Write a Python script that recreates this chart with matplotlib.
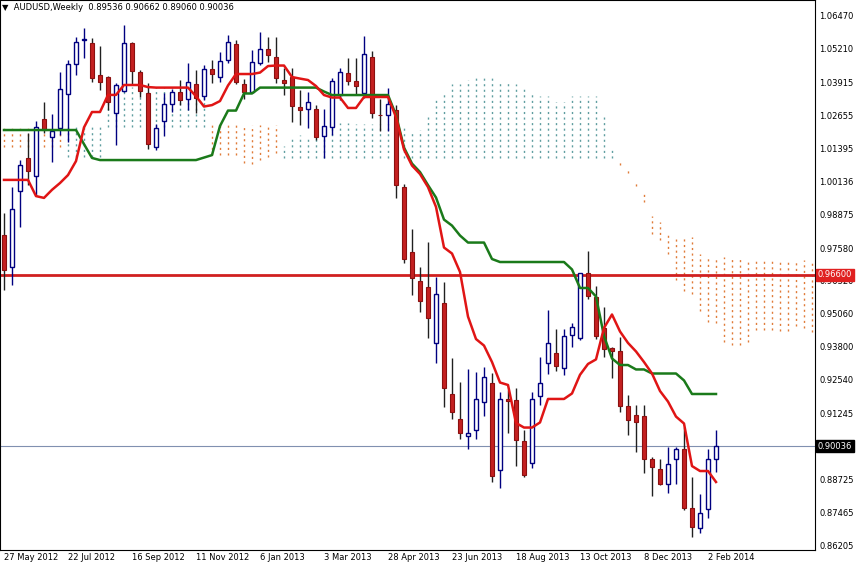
import numpy as np
import pandas as pd
import matplotlib
matplotlib.use("Agg")
import matplotlib.pyplot as plt

opens = [.9812,.9689,.9980,1.0107,1.0038,1.0256,1.0187,1.0222,1.0352,1.0467,
         1.0559,1.0547,1.0425,1.0417,1.0279,1.0363,1.0547,1.0436,1.0356,1.0149,
         1.0249,1.0314,1.0360,1.0333,1.0390,1.0344,1.0448,1.0417,1.0482,1.0543,
         1.0390,1.0360,1.0471,1.0524,1.0494,1.0406,1.0417,1.0302,1.0295,1.0295,
         1.0191,1.0226,1.0348,1.0432,1.0402,1.0356,1.0494,1.0272,1.0272,1.0291,
         .9996,.9747,.9636,.9613,.9398,.9552,.9203,.9107,.9042,.9065,
         .9172,.9245,.8912,.9184,.9180,.9023,.8939,.9195,.9322,.9360,
         .9303,.9429,.9417,.9666,.9574,.9456,.9379,.9368,.9157,.9123,
         .9119,.8954,.8916,.8858,.8954,.8992,.8766,.8690,.8763,.89536]
highs = [.9896,.9996,1.0099,1.0203,1.0249,1.0321,1.0275,1.0436,1.0482,1.0570,
         1.0605,1.0566,1.0536,1.0420,1.0394,1.0616,1.0550,1.0444,1.0394,1.0237,
         1.0356,1.0371,1.0406,1.0471,1.0444,1.0463,1.0482,1.0513,1.0578,1.0559,
         1.0409,1.0521,1.0589,1.0570,1.0570,1.0452,1.0452,1.0367,1.0360,1.0310,
         1.0295,1.0413,1.0452,1.0490,1.0490,1.0574,1.0517,1.0333,1.0375,1.0310,
         1.0007,.9835,.9689,.9785,.9651,.9632,.9341,.9249,.9299,.9287,
         .9306,.9283,.9211,.9218,.9226,.9065,.9211,.9345,.9525,.9452,
         .9452,.9475,.9668,.9751,.9617,.9536,.9383,.9421,.9199,.9161,
         .9161,.8962,.8954,.9000,.9000,.9077,.8885,.8820,.8992,.90662]
lows = [.9601,.9620,.9843,1.0003,.9961,1.0203,1.0092,1.0195,1.0168,1.0425,
        1.0490,1.0398,1.0367,1.0291,1.0157,1.0360,1.0386,1.0341,1.0141,1.0137,
        1.0191,1.0283,1.0310,1.0291,1.0279,1.0329,1.0394,1.0398,1.0471,1.0390,
        1.0333,1.0356,1.0463,1.0475,1.0394,1.0348,1.0245,1.0233,1.0222,1.0176,
        1.0107,1.0195,1.0329,1.0386,1.0348,1.0337,1.0260,1.0210,1.0210,.9954,
        .9705,.9582,.9517,.9417,.9322,.9153,.9107,.9031,.8992,.9031,
        .9119,.8866,.8843,.9054,.8927,.8885,.8920,.9161,.9280,.9291,
        .9276,.9383,.9410,.9567,.9414,.9345,.9264,.9134,.9046,.8981,
        .8900,.8812,.8854,.8824,.8858,.8759,.8655,.8671,.8728,.89060]
closes = [.9678,.9912,1.0080,1.0057,1.0226,1.0214,1.0210,1.0371,1.0467,1.0551,
          1.0563,1.0413,1.0398,1.0321,1.0386,1.0547,1.0440,1.0363,1.0160,1.0222,
          1.0314,1.0360,1.0329,1.0398,1.0337,1.0448,1.0429,1.0478,1.0551,1.0398,
          1.0360,1.0475,1.0524,1.0501,1.0413,1.0394,1.0306,1.0291,1.0321,1.0187,
          1.0229,1.0402,1.0436,1.0402,1.0383,1.0505,1.0279,1.0270,1.0314,1.0003,
          .9720,.9647,.9559,.9494,.9586,.9226,.9134,.9054,.9054,.9184,
          .9268,.8889,.9184,.9176,.9027,.8893,.9184,.9245,.9398,.9310,
          .9425,.9460,.9666,.9578,.9425,.9375,.9368,.9157,.9103,.9096,
          .8954,.8923,.8858,.8935,.8992,.8766,.8694,.8747,.8954,.90036]

# indicator values that depend on history before the data window
tenkan_early = [1.0023,1.0023,1.0023,1.0023,.9961,.9954,.9985,1.0011]
kijun_early = [1.0214]*10 + [1.0160,1.0107] + [1.0099]*13
spanA_early = [1.0149]*8 + [1.0226]*5 + [1.0379]*13
spanB_early = [1.0226]*8 + [1.0111]*5 + [1.0226]*13
spanB_shifted_early = [1.0233]*9 + [1.0107]*17

date_labels = ["27 May 2012","22 Jul 2012","16 Sep 2012","11 Nov 2012","6 Jan 2013",
               "3 Mar 2013","28 Apr 2013","23 Jun 2013","18 Aug 2013","13 Oct 2013",
               "8 Dec 2013","2 Feb 2014"]
price_ticks = [1.06470,1.05210,1.03915,1.02655,1.01395,1.00136,0.98875,0.97580,
               0.96320,0.95060,0.93800,0.92540,0.91245,0.88725,0.87465,0.86205]
hline_level = 0.96600
last_price = 0.90036

df = pd.DataFrame(dict(o=opens, h=highs, l=lows, c=closes))
n = len(df)
hh9 = df.h.rolling(9, min_periods=1).max(); ll9 = df.l.rolling(9, min_periods=1).min()
tenkan = ((hh9 + ll9) / 2).values
tenkan[:len(tenkan_early)] = tenkan_early
hh26 = df.h.rolling(26, min_periods=1).max(); ll26 = df.l.rolling(26, min_periods=1).min()
kijun = ((hh26 + ll26) / 2).values
kijun[:len(kijun_early)] = kijun_early
hh52 = df.h.rolling(52, min_periods=1).max(); ll52 = df.l.rolling(52, min_periods=1).min()
sb = ((hh52 + ll52) / 2).values
sb[:len(spanB_shifted_early)] = spanB_shifted_early
sa = (tenkan + kijun) / 2
spanA = np.concatenate([spanA_early, sa])
spanB = np.concatenate([spanB_early, sb])
xc = np.arange(len(spanA))

fig = plt.figure(figsize=(8.58, 5.67), dpi=100)
ax = fig.add_axes([0, 17/567, 815/858, 1 - 17/567])
ymin, ymax = 1.0712 - 0.000383*550, 1.0712
ax.set_xlim(-0.5, 815/8 - 0.5)
ax.set_ylim(ymin, ymax)

orange = "#E07B39"; teal = "#5F9EA0"
for i in xc:
    a, b = spanA[i], spanB[i]
    ax.vlines(i, min(a, b), max(a, b), colors=teal if a >= b else orange,
              linestyles=(0, (1.5, 2.5)), lw=1, zorder=1)

ax.axhline(hline_level, color="#D02020", lw=2, zorder=2)
ax.axhline(last_price, color="#8090B0", lw=0.8, zorder=2)

x = np.arange(n)
for i in range(n):
    o, h, l, c = opens[i], highs[i], lows[i], closes[i]
    if c >= o:
        ax.vlines(i, l, h, color="#000080", lw=1, zorder=3)
        ax.bar(i, max(c - o, 0.0003), bottom=o, width=0.62, facecolor="white",
               edgecolor="#000080", lw=1, zorder=4)
    else:
        ax.vlines(i, l, h, color="#202020", lw=1, zorder=3)
        ax.bar(i, max(o - c, 0.0003), bottom=c, width=0.62, facecolor="#C42020",
               edgecolor="#8B1010", lw=0.8, zorder=4)

ax.plot(x, kijun, color="#1A7A1A", lw=1.8, zorder=5)
ax.plot(x, tenkan, color="#E01515", lw=1.8, zorder=6)

ax.set_xticks([]); ax.set_yticks([])
for s in ax.spines.values():
    s.set_color("black"); s.set_linewidth(0.8)

fs = 6
for p in price_ticks:
    ax.annotate(f"{p:.5f}", xy=(1, p), xycoords=("axes fraction", "data"),
                xytext=(3, 0), textcoords="offset points", va="center", ha="left",
                fontsize=fs, annotation_clip=False)
ax.annotate(f"{hline_level:.5f}", xy=(1, hline_level), xycoords=("axes fraction", "data"),
            xytext=(2, 0), textcoords="offset points", va="center", ha="left",
            fontsize=fs, color="white", annotation_clip=False,
            bbox=dict(boxstyle="square,pad=0.2", fc="#E02020", ec="#E02020"))
ax.annotate(f"{last_price:.5f}", xy=(1, last_price), xycoords=("axes fraction", "data"),
            xytext=(2, 0), textcoords="offset points", va="center", ha="left",
            fontsize=fs, color="white", annotation_clip=False,
            bbox=dict(boxstyle="square,pad=0.2", fc="black", ec="black"))
for k, lab in enumerate(date_labels):
    ax.text(k*8, ymin - 0.0012, lab, transform=ax.transData, va="top", ha="left",
            fontsize=fs, clip_on=False)
ax.text(0.003, 0.995, "\u25BC  AUDUSD,Weekly  0.89536 0.90662 0.89060 0.90036",
        transform=ax.transAxes, va="top", ha="left", fontsize=fs)
fig.savefig("out.png", dpi=100)
